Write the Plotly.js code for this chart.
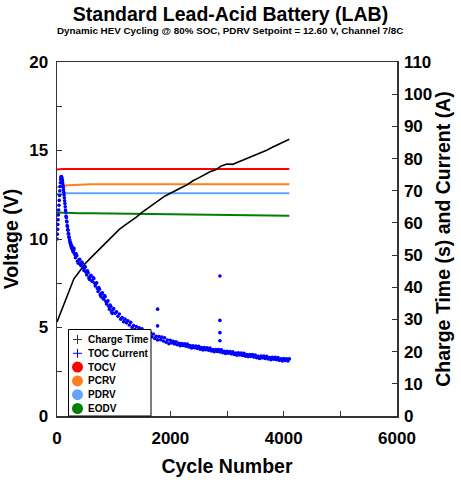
<!DOCTYPE html>
<html>
<head>
<meta charset="utf-8">
<script src="https://cdn.plot.ly/plotly-3.0.1.min.js"></script>
<style>html,body{margin:0;padding:0;background:#fff;}#chart{width:461px;height:480px;}</style>
</head>
<body>
<div id="chart"></div>
<script>
// ---- Data ----
const voltCycles = [0, 50, 100, 200, 300, 400, 600, 800, 1000, 1200, 1400, 1600, 1800, 2000, 2200, 2400, 2600, 2800, 3000, 3200, 3400, 3600, 3800, 4000, 4100];
const tocv = [13.93, 13.95, 13.96, 13.96, 13.95, 13.96, 13.96, 13.95, 13.96, 13.96, 13.95, 13.96, 13.96, 13.95, 13.96, 13.96, 13.95, 13.96, 13.95, 13.96, 13.96, 13.95, 13.96, 13.95, 13.96];
const pcrv = [12.92, 12.97, 13.0, 13.04, 13.06, 13.08, 13.09, 13.1, 13.1, 13.1, 13.1, 13.1, 13.11, 13.1, 13.1, 13.1, 13.1, 13.11, 13.1, 13.1, 13.1, 13.1, 13.1, 13.1, 13.1];
const pdrv = [12.57, 12.58, 12.58, 12.58, 12.58, 12.58, 12.58, 12.58, 12.58, 12.58, 12.58, 12.58, 12.58, 12.58, 12.58, 12.58, 12.58, 12.58, 12.58, 12.58, 12.58, 12.58, 12.58, 12.58, 12.58];
const eodv = [11.5, 11.5, 11.48, 11.47, 11.47, 11.46, 11.45, 11.44, 11.43, 11.43, 11.42, 11.41, 11.41, 11.4, 11.39, 11.38, 11.38, 11.37, 11.36, 11.35, 11.34, 11.33, 11.33, 11.32, 11.32];

const chargeCycles = [0, 50, 100, 150, 200, 250, 300, 350, 400, 500, 600, 700, 800, 900, 1000, 1100, 1200, 1300, 1400, 1500, 1600, 1700, 1800, 1900, 2000, 2100, 2200, 2300, 2400, 2500, 2600, 2700, 2800, 2900, 3000, 3100, 3200, 3300, 3400, 3500, 3600, 3700, 3800, 3900, 4000, 4100];
const chargeTime = [29.2, 31.5, 34, 36.3, 38.6, 41, 42.7, 43.8, 45, 47.4, 49.2, 51, 52.8, 54.5, 56.2, 58, 59.3, 60.5, 61.8, 63.3, 64.6, 65.7, 67, 68.3, 69.2, 70.2, 71, 71.9, 73.1, 74, 75, 75.9, 76.5, 77.7, 78.3, 78.2, 78.9, 79.6, 80.3, 81, 81.8, 82.6, 83.5, 84.3, 85.2, 86];

const currentCycles = [
  0, 5, 10, 15, 20, 25, 30, 35, 40, 45, 50, 55, 60, 65, 70, 75, 80, 85, 90, 95, 100, 105, 110, 115, 120, 125, 130, 135, 140, 145, 150,
  155, 160, 165, 170, 175, 180, 185, 190, 195, 200, 205, 210, 215, 220, 225, 230, 235, 240, 245, 250, 255, 260, 265, 270, 275, 280, 285, 290, 295,
  300, 325, 350, 375, 400, 425, 450, 475, 500, 525, 550, 575, 600, 625, 650, 675, 700, 725, 750, 775, 800, 825, 850, 875, 900, 925, 950, 975, 1000,
  312.5, 337.5, 362.5, 387.5, 412.5, 437.5, 462.5, 487.5, 512.5, 537.5, 562.5, 587.5, 612.5, 637.5, 662.5, 687.5, 712.5, 737.5, 762.5, 787.5, 812.5, 837.5, 862.5, 887.5, 912.5, 937.5, 962.5, 987.5,
  1025, 1050, 1075, 1100, 1125, 1150, 1175, 1200, 1225, 1250, 1275, 1300, 1325, 1350, 1375, 1400, 1425, 1450, 1475, 1500, 1525, 1550, 1575, 1600, 1625, 1650, 1675, 1700, 1725, 1750, 1775, 1800, 1825, 1850, 1875, 1900, 1925, 1950, 1975, 2000,
  2025, 2050, 2075, 2100, 2125, 2150, 2175, 2200, 2225, 2250, 2275, 2300, 2325, 2350, 2375, 2400, 2425, 2450, 2475, 2500, 2525, 2550, 2575, 2600, 2625, 2650, 2675, 2700, 2725, 2750, 2775, 2800, 2825, 2850, 2875, 2900, 2925, 2950, 2975, 3000,
  3025, 3050, 3075, 3100, 3125, 3150, 3175, 3200, 3225, 3250, 3275, 3300, 3325, 3350, 3375, 3400, 3425, 3450, 3475, 3500, 3525, 3550, 3575, 3600, 3625, 3650, 3675, 3700, 3725, 3750, 3775, 3800, 3825, 3850, 3875, 3900, 3925, 3950, 3975, 4000, 4025, 4050, 4075, 4100,
  1775, 1775, 2875, 2875, 2875, 2875];
const tocCurrent = [
  55, 56.5, 58, 59.5, 61, 62.5, 64, 65.5, 67, 68.5, 70, 71.3, 72.5, 73.5, 74.2, 74.4, 74.3, 74, 73.6, 73.1, 72.5, 71.8, 71.1, 70.3, 69.5, 68.7, 67.8, 66.9, 66, 65, 64,
  63.3, 62.1, 61.7, 60.6, 60.3, 59.2, 58.9, 57.9, 57.7, 56.7, 56.5, 55.6, 55.5, 54.7, 54.7, 53.9, 54.0, 53.3, 53.4, 52.6, 53.0, 52.2, 52.6, 51.8, 52.3, 51.3, 51.9, 50.9, 51.5,
  52.1, 49.2, 49.8, 47.5, 48.7, 46.7, 47.5, 45.2, 46.4, 43.8, 44.6, 42.4, 43.7, 41.8, 42.7, 40.4, 41.4, 38.7, 39.4, 37.1, 38.3, 36.3, 37.1, 34.8, 35.8, 33.2, 34.0, 31.9, 33.4,
  50.2, 50.4, 48.1, 48.5, 47.0, 47.8, 46.1, 46.0, 44.7, 45.1, 42.9, 43.4, 42.0, 43.0, 41.3, 41.1, 39.6, 39.9, 37.7, 38.1, 36.6, 37.4, 35.6, 35.5, 34.1, 34.5, 32.4, 33.0,
  31.9, 32.4, 31.0, 31.7, 30.1, 30.6, 29.3, 30.1, 28.95, 29.6, 28.3, 29.1, 27.5, 28.1, 26.85, 27.8, 26.7, 27.4, 26.2, 27.1, 25.6, 26.3, 25.1, 26.1, 25.05, 25.8, 24.6, 25.5, 24.1, 24.8, 23.65, 24.7, 23.7, 24.5, 23.3, 24.3, 22.9, 23.6, 22.45, 23.5,
  22.7, 23.2, 22.4, 23.05, 22.14, 22.58, 21.85, 22.52, 21.89, 22.44, 21.68, 22.32, 21.42, 21.88, 21.15, 21.82, 21.19, 21.76, 21.0, 21.65, 20.77, 21.24, 20.54, 21.24, 20.62, 21.19, 20.44, 21.09, 20.21, 20.68, 19.98, 20.68, 20.07, 20.65, 19.91, 20.57, 19.68, 20.14, 19.43, 20.12,
  19.5, 20.06, 19.31, 19.95, 19.09, 19.58, 18.9, 19.62, 18.99, 19.56, 18.81, 19.45, 18.59, 19.08, 18.4, 19.12, 18.49, 19.06, 18.3, 18.95, 18.09, 18.58, 17.9, 18.62, 18.02, 18.61, 17.88, 18.55, 17.69, 18.18, 17.5, 18.22, 17.62, 18.21, 17.48, 18.15, 17.29, 17.78, 17.1, 17.82, 17.22, 17.81, 17.08, 17.75,
  33.2, 28.0, 43.5, 29.7, 25.9, 23.4];

const legendNames = ['Charge Time', 'TOC Current', 'TOCV', 'PCRV', 'PDRV', 'EODV'];
const colors = {tocv: '#ff0000', pcrv: '#ff7f1e', pdrv: '#66a3ff', eodv: '#008000', current: '#0000ff', charge: '#000000'};

// ---- Layout helpers (pixel -> paper) ----
const PL = 57, PT = 62, PW = 340, PH = 354;
const px = x => (x - PL) / PW;
const py = y => (PT + PH - y) / PH;
const FONT = 'Liberation Sans, Arial, sans-serif';

const traces = [
  {x: voltCycles, y: tocv, mode: 'lines', line: {color: colors.tocv, width: 2}, name: 'TOCV', showlegend: false},
  {x: voltCycles, y: pcrv, mode: 'lines', line: {color: colors.pcrv, width: 2}, name: 'PCRV', showlegend: false},
  {x: voltCycles, y: pdrv, mode: 'lines', line: {color: colors.pdrv, width: 2}, name: 'PDRV', showlegend: false},
  {x: voltCycles, y: eodv, mode: 'lines', line: {color: colors.eodv, width: 2}, name: 'EODV', showlegend: false},
  {x: chargeCycles, y: chargeTime, yaxis: 'y2', mode: 'lines', line: {color: colors.charge, width: 1.6}, name: 'Charge Time', showlegend: false},
  {x: currentCycles, y: tocCurrent, yaxis: 'y2', mode: 'markers', name: 'TOC Current', showlegend: false,
   marker: {symbol: 'circle', size: 3.6, color: colors.current, line: {width: 0}}}
];

// manual legend
const shapes = [{type: 'rect', xref: 'paper', yref: 'paper', x0: px(68.5), x1: px(151), y0: py(416), y1: py(329.5),
  fillcolor: '#ffffff', line: {color: '#000', width: 1}, layer: 'above'}];
const annotations = [];
const legColors = [colors.charge, colors.current, colors.tocv, colors.pcrv, colors.pdrv, colors.eodv];
legendNames.forEach((nm, i) => {
  const yy = 339.5 + 13.8 * i;
  const ax = px(77.5), ay = py(yy);
  if (i < 2) {
    const c = i === 0 ? '#333' : colors.current;
    shapes.push({type: 'line', xref: 'paper', yref: 'paper', xsizemode: 'pixel', ysizemode: 'pixel', xanchor: ax, yanchor: ay, x0: -4.5, x1: 4.5, y0: 0, y1: 0, line: {color: c, width: 1}, layer: 'above'});
    shapes.push({type: 'line', xref: 'paper', yref: 'paper', xsizemode: 'pixel', ysizemode: 'pixel', xanchor: ax, yanchor: ay, x0: 0, x1: 0, y0: -4.5, y1: 4.5, line: {color: c, width: 1}, layer: 'above'});
  } else {
    shapes.push({type: 'circle', xref: 'paper', yref: 'paper', xsizemode: 'pixel', ysizemode: 'pixel', xanchor: ax, yanchor: ay, x0: -5.5, x1: 5.5, y0: -5.5, y1: 5.5, fillcolor: legColors[i], line: {width: 0}, layer: 'above'});
  }
  annotations.push({xref: 'paper', yref: 'paper', x: px(86), y: ay, xanchor: 'left', yanchor: 'middle', showarrow: false,
    text: nm, font: {family: FONT, size: 10, weight: 'bold', color: '#000'}});
});
annotations.push({xref: 'paper', yref: 'paper', x: px(229.5), y: py(30.5), xanchor: 'center', yanchor: 'middle', showarrow: false,
  text: 'Dynamic HEV Cycling @ 80% SOC, PDRV Setpoint = 12.60 V, Channel 7/8C', font: {family: FONT, size: 9.8, weight: 'bold', color: '#000'}});

const tickFont = {family: FONT, size: 17, weight: 'bold', color: '#000'};
const titleFont = {family: FONT, size: 19.5, weight: 'bold', color: '#000'};

const layout = {
  width: 461, height: 480,
  margin: {l: PL, r: 461 - PL - PW, t: PT, b: 480 - PT - PH},
  paper_bgcolor: '#fff', plot_bgcolor: '#fff',
  showlegend: false,
  title: {text: 'Standard Lead-Acid Battery (LAB)', font: {family: FONT, size: 19.5, weight: 'bold', color: '#000'},
          x: 0.5, xref: 'container', xanchor: 'center', y: 1 - 14 / 480, yref: 'container', yanchor: 'middle'},
  xaxis: {range: [0, 6000], tick0: 0, dtick: 2000, ticks: 'inside', ticklen: 5, tickcolor: '#333',
          minor: {dtick: 1000, ticks: 'inside', ticklen: 5, tickcolor: '#333'},
          showline: true, linecolor: '#333', linewidth: 1.5, mirror: true, showgrid: false, zeroline: false,
          tickfont: tickFont, ticklabelstandoff: 6,
          title: {text: 'Cycle Number', font: titleFont, standoff: 12}},
  yaxis: {range: [0, 20], tick0: 0, dtick: 5, ticks: 'inside', ticklen: 5, tickcolor: '#333',
          minor: {dtick: 2.5, ticks: 'inside', ticklen: 5, tickcolor: '#333'},
          showline: true, linecolor: '#333', linewidth: 1.5, showgrid: false, zeroline: false,
          tickfont: tickFont, ticklabelstandoff: 4,
          title: {text: 'Voltage (V)', font: titleFont, standoff: 6}},
  yaxis2: {range: [0, 110], tick0: 0, dtick: 10, overlaying: 'y', side: 'right', ticks: 'inside', ticklen: 5, tickcolor: '#333',
           showline: true, linecolor: '#333', linewidth: 1.5, showgrid: false, zeroline: false,
           tickfont: tickFont, ticklabelstandoff: 2,
           title: {text: 'Charge Time (s) and Current (A)', font: titleFont, standoff: 4}},
  shapes: shapes,
  annotations: annotations
};

Plotly.newPlot('chart', traces, layout, {displayModeBar: false, staticPlot: true});
</script>
</body>
</html>
